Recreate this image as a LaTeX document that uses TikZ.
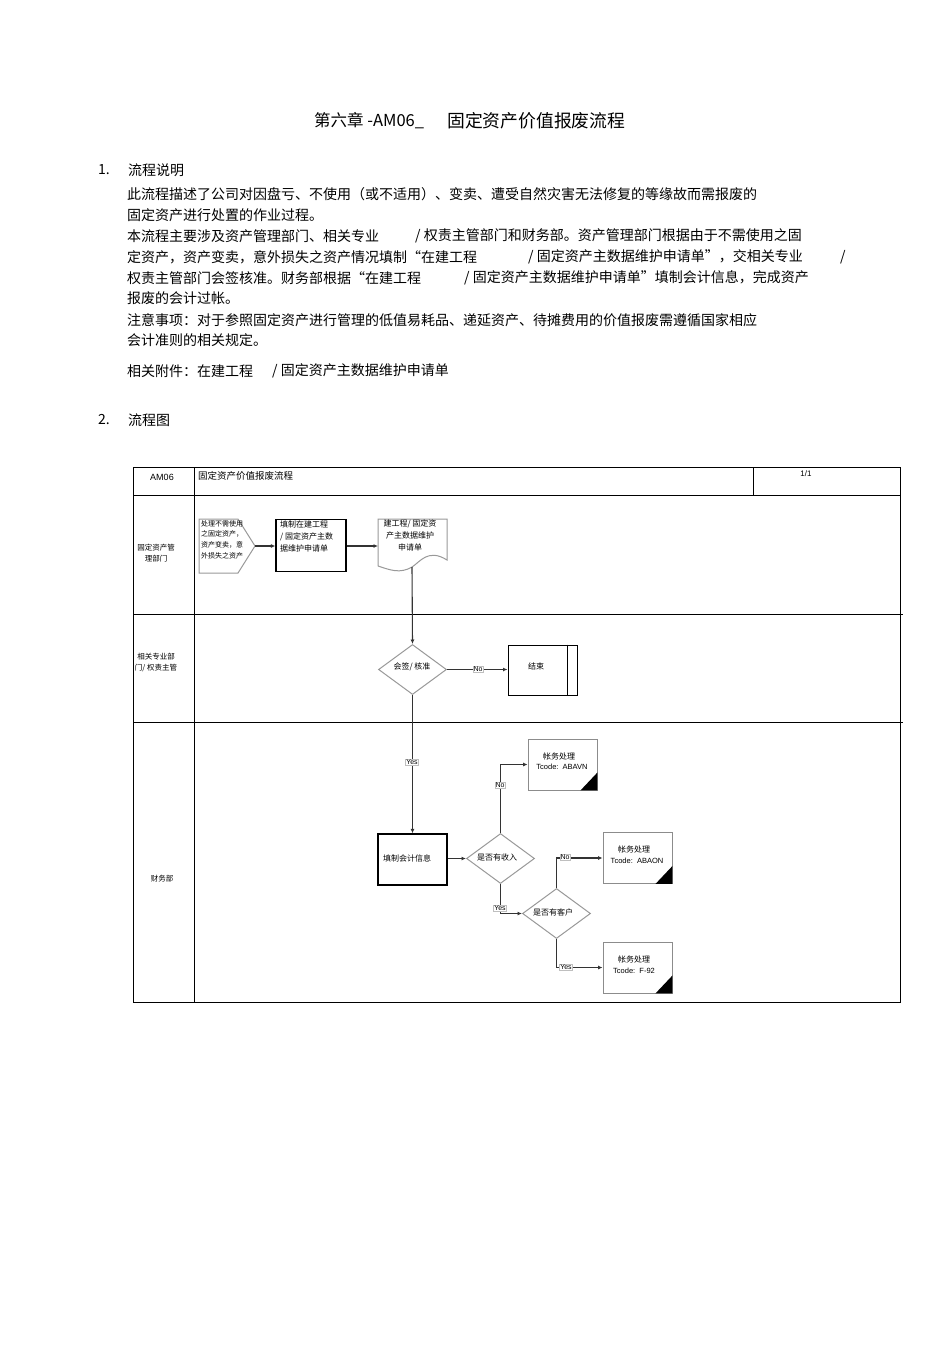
\documentclass[tikz,border=0pt]{standalone}
\usepackage{fontspec}
\setmainfont{Liberation Sans}
\newfontfamily\cjk{Noto Sans CJK SC}
\usetikzlibrary{shapes.geometric,arrows.meta}
\tikzset{
  body/.style={font=\cjk\fontsize{14}{16}\selectfont, anchor=west, inner sep=0pt},
  ttl/.style={font=\cjk\fontsize{16.5}{18}\selectfont, anchor=west, inner sep=0pt},
  sm/.style={font=\cjk\fontsize{8}{12}\selectfont, inner sep=0pt},
  tiny/.style={font=\cjk\fontsize{7}{10.7}\selectfont, inner sep=0pt},
  lanelbl/.style={font=\cjk\fontsize{7.5}{11}\selectfont, inner sep=0pt, align=center},
  grid/.style={draw=black, line width=0.9pt},
  procbox/.style={draw=black, line width=1.3pt, minimum width=70, minimum height=52, inner sep=0pt},
  accbox/.style={draw=black!45, line width=0.9pt, minimum width=69, minimum height=51, inner sep=0pt},
  dec/.style={diamond, draw=black!40, line width=1pt, minimum width=68, minimum height=50, inner sep=0pt},
  grayshape/.style={draw=black!40, line width=1pt},
  conn/.style={draw=black!80, line width=1.1pt, -{Latex[length=4.5pt,width=4pt]}},
  lbl/.style={draw=black!25, fill=white, inner sep=0.8pt, font=\fontsize{7}{8}\selectfont},
}
\begin{document}
\begin{tikzpicture}[x=1pt,y=-1pt]
\useasboundingbox[fill=white] (0,0) rectangle (950,1346);

% ---------- title and text ----------
\node[ttl] (t1) at (314,121) {第六章 -AM06\_};
\node[ttl, font=\cjk\fontsize{17.8}{19}\selectfont] (t2) at (447,121) {固定资产价值报废流程};

\node[body] (h1n) at (98,170) {1.};
\node[body] (h1) at (128,170) {流程说明};
\node[body] (p1) at (127,194) {此流程描述了公司对因盘亏、不使用（或不适用）、变卖、遭受自然灾害无法修复的等缘故而需报废的};
\node[body] (p2) at (127,215) {固定资产进行处置的作业过程。};
\node[body] (p3a) at (127,236) {本流程主要涉及资产管理部门、相关专业};
\node[body] (p3b) at (415,236) {/ 权责主管部门和财务部。资产管理部门根据由于不需使用之固};
\node[body] (p4a) at (127,257) {定资产，资产变卖，意外损失之资产情况填制“在建工程};
\node[body] (p4b) at (528,257) {/ 固定资产主数据维护申请单”，交相关专业};
\node[body] (p4c) at (840,257) {/};
\node[body] (p5a) at (127,278) {权责主管部门会签核准。财务部根据“在建工程};
\node[body] (p5b) at (464,278) {/ 固定资产主数据维护申请单”填制会计信息，完成资产};
\node[body] (p6) at (127,298) {报废的会计过帐。};
\node[body] (p7) at (127,320) {注意事项：对于参照固定资产进行管理的低值易耗品、递延资产、待摊费用的价值报废需遵循国家相应};
\node[body] (p8) at (127,340) {会计准则的相关规定。};
\node[body] (p9a) at (127,371) {相关附件：在建工程};
\node[body] (p9b) at (272,371) {/ 固定资产主数据维护申请单};

\node[body] (h2n) at (98,420) {2.};
\node[body] (h2) at (128,420) {流程图};

% ---------- table ----------
\draw[grid] (133,467) rectangle (900,1002);
\draw[grid] (133,495) -- (900,495);
\draw[grid] (194,467) -- (194,1002);
\draw[grid] (753,467) -- (753,495);
\draw[grid] (133,614) -- (903,614);
\draw[grid] (133,722) -- (903,722);

\node[font=\fontsize{9}{10}\selectfont, inner sep=0pt] (am) at (162,477) {AM06};
\node[font=\cjk\fontsize{9.5}{10}\selectfont, inner sep=0pt, anchor=west] (tt) at (198,476) {固定资产价值报废流程};
\node[font=\fontsize{8}{9}\selectfont, inner sep=0pt] (pg) at (806,474) {1/1};

\node[lanelbl] (l1) at (156,553) {固定资产管\\理部门};
\node[lanelbl] (l2) at (156,662) {相关专业部\\门/ 权责主管};
\node[lanelbl] (l3) at (162,879) {财务部};

% ---------- lane 1 ----------
\draw[grayshape] (199,519) -- (238,519) -- (255,546) -- (238,573) -- (199,573) -- cycle;
\coordinate (pentip) at (255,546);
\node[tiny, anchor=north west, align=left] (ptx) at (201,520) {处理不需使用\\之固定资产，\\资产变卖，意\\外损失之资产};

\node[procbox] (r1) at (311,545.5) {};
\node[sm, anchor=north west, align=left] (r1t) at (280,521) {填制在建工程\\/ 固定资产主数\\据维护申请单};

\draw[grayshape] (378,566) -- (378,519) -- (447,519) -- (447,560)
  .. controls (428,548) and (420,562) .. (412,567)
  .. controls (400,574) and (390,570) .. (378,566);
\coordinate (docw) at (378,546);
\coordinate (docs) at (412,567);
\node[sm, align=center] (dt) at (410,535) {建工程/ 固定资\\产主数据维护\\申请单};

\draw[conn] (pentip) -- (r1.west |- pentip);
\draw[conn] (r1.east |- docw) -- (docw);

% ---------- lane 2 ----------
\node[dec] (d1) at (412.5,669.5) {};
\node[sm] (d1t) at (412,667) {会签/ 核准};
\node[draw=black, line width=1pt, minimum width=69, minimum height=50, inner sep=0pt] (end) at (542.5,670) {};
\draw[black, line width=0.9pt] ([xshift=-10pt]end.north east) -- ([xshift=-10pt]end.south east);
\node[sm] (endt) at (536,666) {结束};

\draw[conn] (docs) -- (d1.north);
\draw[conn] (d1.east) -- (end.west |- d1.east);
\node[lbl] (n1) at (478,669) {No};

% ---------- lane 3 ----------
\node[procbox, minimum width=69, minimum height=51] (r2) at (412.5,859.5) {};
\node[sm] (r2t) at (407,858) {填制会计信息};
\draw[conn] (d1.south) -- (r2.north);
\node[lbl] (y1) at (412,762) {Yes};

\node[dec] (d2) at (500.5,858.5) {};
\node[sm] (d2t) at (497,857) {是否有收入};
\draw[conn] (r2.east |- d2.west) -- (d2.west);

\node[dec] (d3) at (556.5,913.5) {};
\node[sm] (d3t) at (553,912) {是否有客户};

\node[accbox] (b1) at (562.5,764.5) {};
\node[accbox] (b2) at (637.5,858) {};
\node[accbox] (b3) at (637.5,967.5) {};
\foreach \b in {b1,b2,b3}
  \fill[black] ([yshift=18pt]\b.south east) -- (\b.south east) -- ([xshift=-17pt]\b.south east) -- cycle;

\node[sm] (b1a) at (559,756) {帐务处理};
\node[font=\fontsize{7.5}{9}\selectfont, inner sep=0pt] (b1b) at (562,767) {Tcode:\ \ ABAVN};
\node[sm] (b2a) at (634,849) {帐务处理};
\node[font=\fontsize{7.5}{9}\selectfont, inner sep=0pt] (b2b) at (637,861) {Tcode:\ \ ABAON};
\node[sm] (b3a) at (634,959) {帐务处理};
\node[font=\fontsize{7.5}{9}\selectfont, inner sep=0pt] (b3b) at (634,971) {Tcode:\ \ F-92};

\draw[conn] (d2.north) |- (b1.west);
\node[lbl] (n2) at (500,785) {No};
\draw[conn] (d2.south) |- (d3.west);
\node[lbl] (y2) at (500,908) {Yes};
\draw[conn] (d3.north) |- (b2.west);
\node[lbl] (n3) at (565,857) {No};
\draw[conn] (d3.south) |- (b3.west);
\node[lbl] (y3) at (566,967) {Yes};
\end{tikzpicture}
\end{document}
